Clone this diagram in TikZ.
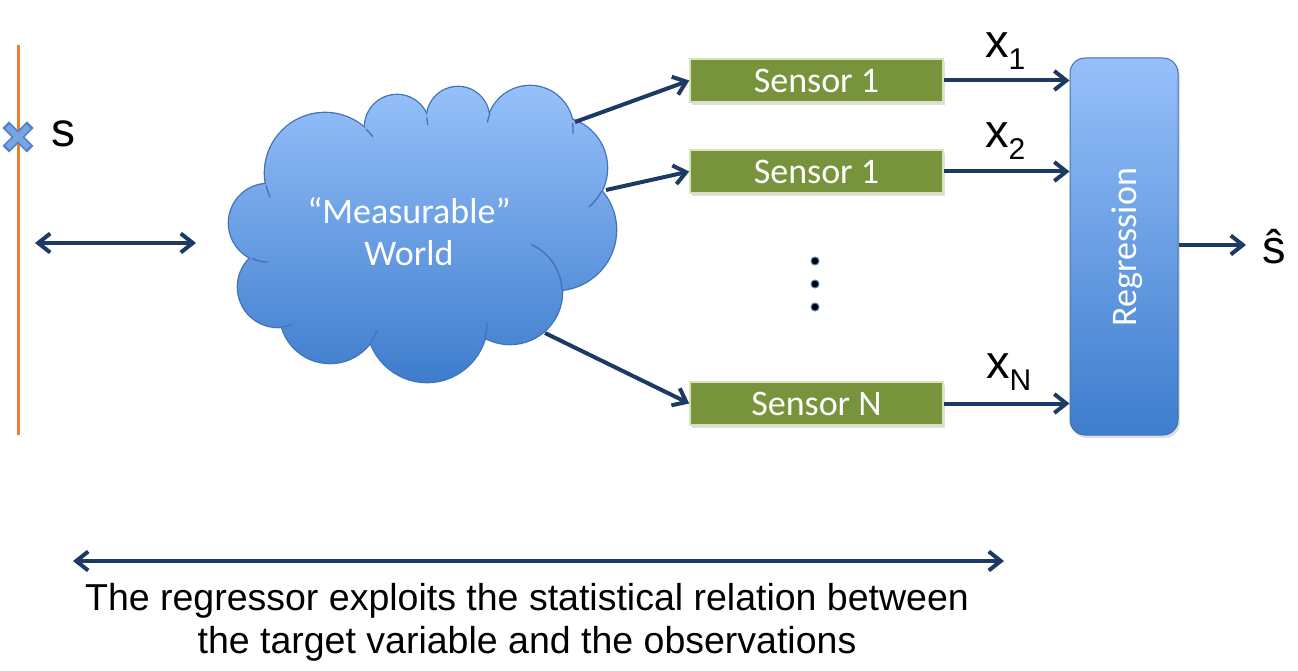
\documentclass[tikz,border=0pt]{standalone}
\usepackage{fontspec}
\setmainfont{Liberation Sans}
\newfontfamily\calib{Carlito}
\usetikzlibrary{arrows.meta,shapes.misc,shadows}
\definecolor{orangeline}{RGB}{237,125,49}
\definecolor{navy}{RGB}{28,58,100}
\definecolor{sgreen}{RGB}{119,147,60}
\definecolor{sgreenline}{RGB}{214,227,188}
\definecolor{ctop}{RGB}{150,192,250}
\definecolor{cbot}{RGB}{62,125,205}
\definecolor{cline}{RGB}{66,114,182}
\definecolor{crossdark}{RGB}{84,130,200}
\definecolor{crosslight}{RGB}{120,165,225}
\tikzset{
  barb/.tip={Straight Barb[length=12pt,width=19pt,line width=4pt]},
  conn/.style={navy, line width=4pt, -barb},
  dconn/.style={navy, line width=4pt, barb-barb},
  sensorbox/.style={rectangle, fill=sgreen, draw=sgreenline, line width=1.5pt, minimum width=253pt, minimum height=43pt, inner sep=0pt,
     text=white, font=\calib\fontsize{36}{36}\selectfont,
     drop shadow={opacity=0.25, shadow xshift=2pt, shadow yshift=-3pt}},
  lbl/.style={inner sep=0pt, font=\fontsize{47}{47}\selectfont},
  dotmark/.style={circle, fill=black, draw=crossdark, line width=1pt, minimum size=8pt, inner sep=0pt},
  cloudedge/.style={cline, line width=1.3pt},
}
\begin{document}
\begin{tikzpicture}[x=1pt,y=-1pt]
\useasboundingbox (0,0) rectangle (1298,671);
% orange axis
\coordinate (ltop) at (18,45);
\coordinate (lbot) at (18,435);
\draw[orangeline, line width=3pt] (ltop) -- (lbot);
% cross marker
\node[cross out, draw=crossdark, line width=9.5pt, minimum size=15pt, inner sep=0pt] (smark) at (18,137) {};
\node[cross out, draw=crosslight, line width=6pt, minimum size=15pt, inner sep=0pt] (smarkin) at (18,137) {};
\node[lbl, anchor=base west, font=\fontsize{48}{48}\selectfont] (slabel) at (51,147) {s};
% left double arrow
\coordinate (la1) at (35,243);
\coordinate (la2) at (196,243);
\draw[dconn] (la1) -- (la2);
% cloud: outline of puff circles, then shaded union
\foreach \cx/\cy/\r in {268/223/39, 325/173/60, 397/127/32, 458/118/31, 530/129/43, 556/168/51,
                        556/230/60, 510/292/52, 427/322/60, 330/313/50, 278/287/40}
  \draw[cline, line width=2.6pt] (\cx,\cy) circle[radius=\r];
\shade[top color=ctop, bottom color=cbot]
  (415,235) ellipse[x radius=150, y radius=100]
  (268,223) circle[radius=39] (325,173) circle[radius=60] (397,127) circle[radius=32]
  (458,118) circle[radius=31] (530,129) circle[radius=43] (556,168) circle[radius=51]
  (556,230) circle[radius=60] (510,292) circle[radius=52] (427,322) circle[radius=60]
  (330,313) circle[radius=50] (278,287) circle[radius=40]
  (485,142) circle[radius=28] (428,145) circle[radius=28] (370,160) circle[radius=28];
% inner hooks of the cloud
\draw[cloudedge] plot[domain=168:156, samples=8] ({325+60*cos(\x)},{173+60*sin(\x)});
\draw[cloudedge] plot[domain=-47:-37, samples=8] ({325+60*cos(\x)},{173+60*sin(\x)});
\draw[cloudedge] plot[domain=181:167, samples=8] ({458+31*cos(\x)},{118+31*sin(\x)});
\draw[cloudedge] plot[domain=201:189, samples=8] ({530+43*cos(\x)},{129+43*sin(\x)});
\draw[cloudedge] plot[domain=-8:6, samples=8] ({530+43*cos(\x)},{129+43*sin(\x)});
\draw[cloudedge] plot[domain=27:50, samples=10] ({556+51*cos(\x)},{168+51*sin(\x)});
\draw[cloudedge] plot[domain=-66:-2, samples=20] ({510+52*cos(\x)},{292+52*sin(\x)});
\draw[cloudedge] plot[domain=15:1, samples=8] ({427+60*cos(\x)},{322+60*sin(\x)});
\draw[cloudedge] plot[domain=35:21, samples=8] ({330+50*cos(\x)},{313+50*sin(\x)});
\draw[cloudedge] plot[domain=84:69, samples=8] ({278+40*cos(\x)},{287+40*sin(\x)});
\draw[cloudedge] plot[domain=115:90, samples=8] ({268+39*cos(\x)},{223+39*sin(\x)});
\node[text=white, font=\calib\fontsize{36}{42}\selectfont, align=center] (world) at (409,232) {“Measurable”\\World};
% sensors
\node[sensorbox] (s1) at (816.5,80.5) {Sensor 1};
\node[sensorbox] (s2) at (816.5,171.5) {Sensor 1};
\node[sensorbox] (sN) at (816.5,403.5) {Sensor N};
% cloud to sensors
\coordinate (c1) at (575,122);
\coordinate (c2) at (606,190);
\coordinate (c3) at (545,333);
\draw[conn] (c1) -- (s1.west);
\draw[conn] (c2) -- (s2.west);
\draw[conn] (c3) -- (sN.west);
% dots
\node[dotmark] (d1) at (815,261) {};
\node[dotmark] (d2) at (815,284) {};
\node[dotmark] (d3) at (815,307) {};
% regression
\node[rectangle, rounded corners=15pt, minimum width=108pt, minimum height=377pt, inner sep=0pt,
      top color=ctop, bottom color=cbot, draw=cline, line width=1pt,
      drop shadow={opacity=0.25, shadow xshift=2pt, shadow yshift=-3pt}] (reg) at (1124,246.5) {};
\node[rotate=90, text=white, font=\calib\fontsize{36}{36}\selectfont] (regtxt) at (1127,247) {Regression};
% sensors to regression
\draw[conn] (s1.east) -- (s1.east -| reg.west);
\draw[conn] (s2.east) -- (s2.east -| reg.west);
\draw[conn] (sN.east) -- (sN.east -| reg.west);
\node[lbl, anchor=base west] (x1) at (985,58) {x\raisebox{-12pt}{\fontsize{30}{30}\selectfont 1}};
\node[lbl, anchor=base west] (x2) at (985,148) {x\raisebox{-12pt}{\fontsize{30}{30}\selectfont 2}};
\node[lbl, anchor=base west] (xN) at (986,378) {x\raisebox{-12pt}{\fontsize{30}{30}\selectfont N}};
% output
\coordinate (outend) at (1246,245);
\draw[conn] (reg.east |- outend) -- (outend);
\node[lbl, anchor=base west] (shat) at (1262,263) {ŝ};
% bottom
\coordinate (ba1) at (73,561);
\coordinate (ba2) at (1004,561);
\draw[dconn] (ba1) -- (ba2);
\node[font=\fontsize{37.5}{43}\selectfont, align=center, anchor=base] (caption) at (527,653)
  {The regressor exploits the statistical relation between\\the target variable and the observations};
\end{tikzpicture}
\end{document}
